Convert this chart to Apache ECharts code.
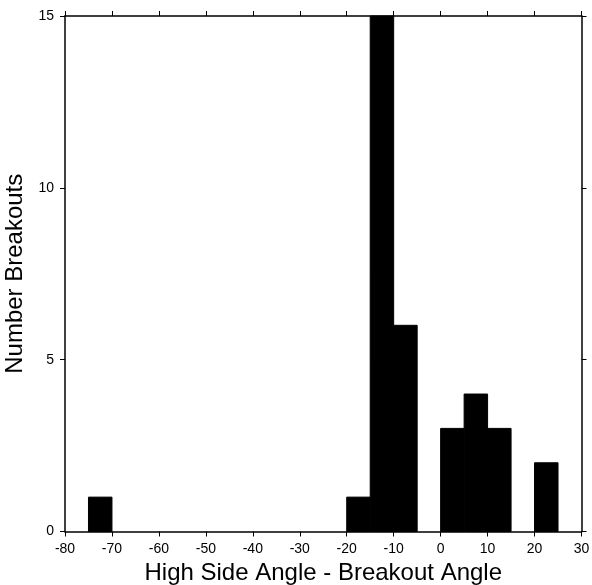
<!DOCTYPE html>
<html>
<head>
<meta charset="utf-8">
<script src="https://cdn.jsdelivr.net/npm/echarts@6/dist/echarts.min.js"></script>
<style>html,body{margin:0;padding:0;background:#fff;}#c{width:592px;height:585px;}</style>
</head>
<body>
<div id="c"></div>
<script>
var binStarts = [-75, -20, -15, -10, 0, 5, 10, 20];
var binWidth = 5;
var counts = [1, 1, 15, 6, 3, 4, 3, 2];
var xTicks = [-80, -70, -60, -50, -40, -30, -20, -10, 0, 10, 20, 30];
var yTicks = [0, 5, 10, 15];

var data = binStarts.map(function (s, i) { return [s, s + binWidth, counts[i]]; });
var font = 'Liberation Sans, Arial, Helvetica, sans-serif';
var chart = echarts.init(document.getElementById('c'));
function axisCommon() {
  return {
    axisLine: { show: true, onZero: false, lineStyle: { color: '#000', width: 1.5 } },
    axisTick: { show: true, length: 5, lineStyle: { color: '#000', width: 1 } },
    splitLine: { show: false }
  };
}
chart.setOption({
  animation: false,
  grid: { left: 65, right: 10.5, top: 16, bottom: 53.5, containLabel: false, outerBoundsMode: 'none' },
  xAxis: [
    Object.assign(axisCommon(), {
      type: 'value', min: xTicks[0], max: xTicks[xTicks.length - 1], interval: 10, position: 'bottom',
      name: 'High Side Angle - Breakout Angle', nameLocation: 'middle', nameGap: 28,
      nameTextStyle: { fontFamily: font, fontSize: 24, color: '#000' },
      axisLabel: { fontFamily: font, fontSize: 14, color: '#000', margin: 11 }
    }),
    Object.assign(axisCommon(), {
      type: 'value', min: xTicks[0], max: xTicks[xTicks.length - 1], interval: 10, position: 'top',
      axisLabel: { show: false }
    })
  ],
  yAxis: [
    Object.assign(axisCommon(), {
      type: 'value', min: yTicks[0], max: yTicks[yTicks.length - 1], interval: 5, position: 'left',
      name: 'Number Breakouts', nameLocation: 'middle', nameGap: 31.5,
      nameTextStyle: { fontFamily: font, fontSize: 24, color: '#000' },
      axisLabel: { fontFamily: font, fontSize: 14, color: '#000', margin: 11 }
    }),
    Object.assign(axisCommon(), {
      type: 'value', min: yTicks[0], max: yTicks[yTicks.length - 1], interval: 5, position: 'right',
      axisLabel: { show: false }
    })
  ],
  series: [{
    type: 'custom',
    xAxisIndex: 0, yAxisIndex: 0,
    data: data,
    encode: { x: [0, 1], y: 2 },
    renderItem: function (params, api) {
      var p0 = api.coord([api.value(0), 0]);
      var p1 = api.coord([api.value(1), api.value(2)]);
      return {
        type: 'rect',
        shape: { x: p0[0], y: p1[1], width: p1[0] - p0[0], height: p0[1] - p1[1] },
        style: { fill: '#000', stroke: '#000', lineWidth: 1 }
      };
    }
  }]
});
</script>
</body>
</html>
